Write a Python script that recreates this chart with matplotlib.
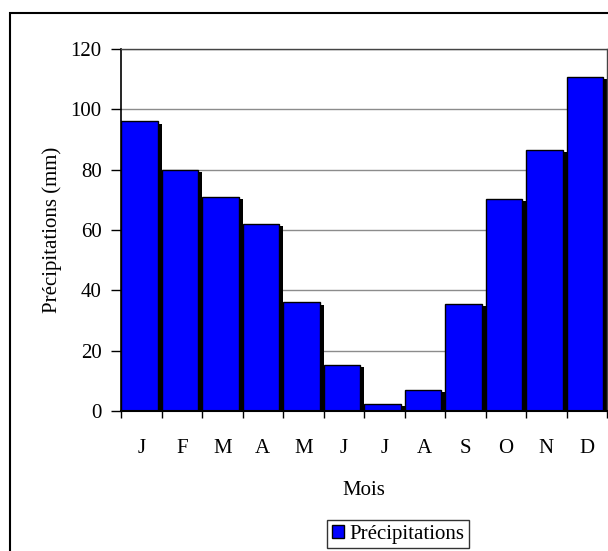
import numpy as np
import matplotlib
matplotlib.use("Agg")
import matplotlib.pyplot as plt
from matplotlib.patches import Rectangle, Patch

plt.rcParams['font.family'] = ['Liberation Serif', 'DejaVu Serif']
plt.rcParams['font.size'] = 15

months = ['J', 'F', 'M', 'A', 'M', 'J', 'J', 'A', 'S', 'O', 'N', 'D']
precip = [96, 80, 71, 62, 36, 15.3, 2.3, 7, 35.5, 70.3, 86.5, 110.7]

fig = plt.figure(figsize=(6.08, 5.51), dpi=100)
# outer chart border
fig.patches.append(Rectangle((10/608, -0.05), 1.2, 1 - 13/551 + 0.05,
                             transform=fig.transFigure, fill=False,
                             edgecolor='black', linewidth=1.5))

ax = fig.add_axes([121/608, 1 - 411/551, 486/608, 362/551])
x = np.arange(len(months))
vals = np.array(precip)

# shadow then bars
ax.bar(x + 0.10, vals - 0.8, width=0.90, align='edge', color='black', zorder=2)
ax.bar(x, vals, width=0.91, align='edge', color='#0000ff', edgecolor='black',
       linewidth=1, zorder=3)

ax.set_xlim(0, 12)
ax.set_ylim(0, 120)
ax.set_yticks(np.arange(0, 121, 20))
ax.set_xticks(x + 0.5)
ax.set_xticklabels(months)
ax.set_xticks(np.arange(0, 13), minor=True)
ax.tick_params(axis='x', which='major', length=0, pad=20)
ax.tick_params(axis='x', which='minor', length=5, width=1, direction='out')
ax.tick_params(axis='y', length=7, width=1, direction='out', pad=7)

ax.yaxis.grid(True, color='#8c8c8c', linewidth=1)
ax.set_axisbelow(True)
for s in ['top', 'right']:
    ax.spines[s].set_color('#444444')
    ax.spines[s].set_linewidth(1)
ax.spines['left'].set_linewidth(1.2)
ax.spines['bottom'].set_linewidth(1.5)
ax.spines['bottom'].set_zorder(4)

ax.set_ylabel('Précipitations (mm)', labelpad=6)
ax.set_xlabel('Mois', labelpad=17)

leg = fig.legend(handles=[Patch(facecolor='#0000ff', edgecolor='black',
                                label='Précipitations')],
                 loc='center', bbox_to_anchor=(398/608, 1 - 534/551),
                 frameon=True, fancybox=False, handlelength=0.6,
                 handleheight=0.6, handletextpad=0.25, borderpad=0.2,
                 borderaxespad=0)
leg.get_frame().set_edgecolor('black')
leg.get_frame().set_linewidth(1)

fig.savefig('out.png', dpi=100)
